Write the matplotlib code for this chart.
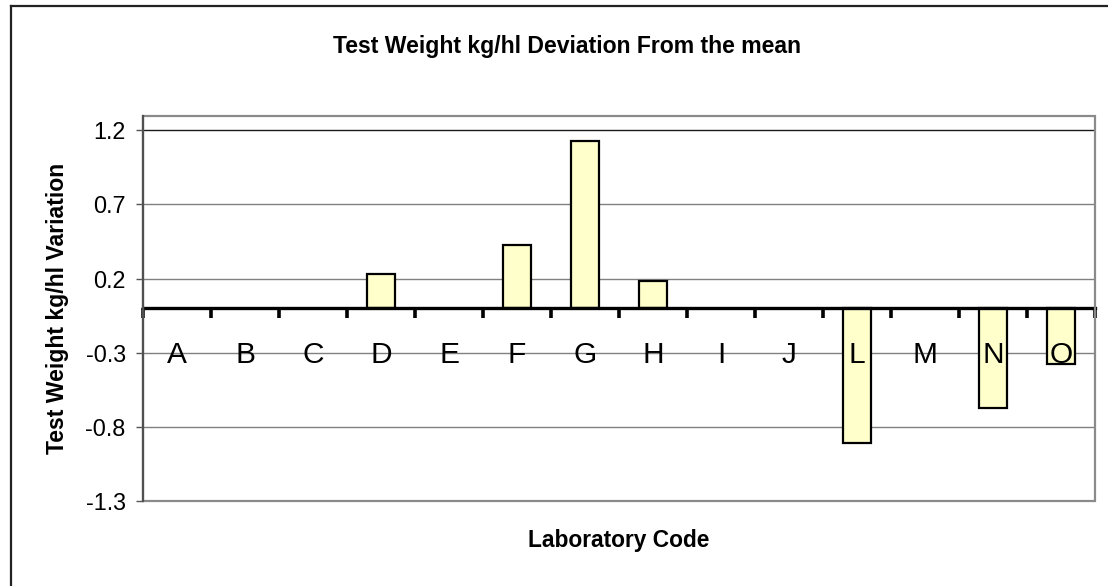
import numpy as np
import matplotlib
matplotlib.use("Agg")
import matplotlib.pyplot as plt
from matplotlib.lines import Line2D
from matplotlib.patches import Rectangle

categories = ["A", "B", "C", "D", "E", "F", "G", "H", "I", "J", "L", "M", "N", "O"]
values = [0.0, 0.0, 0.0, 0.23, 0.0, 0.425, 1.125, 0.185, 0.0, 0.0, -0.91, 0.0, -0.675, -0.375]
y_ticks = [-1.3, -0.8, -0.3, 0.2, 0.7, 1.2]
title = "Test Weight kg/hl Deviation From the mean"
xlabel = "Laboratory Code"
ylabel = "Test Weight kg/hl Variation"

plt.rcParams["font.family"] = ["Liberation Sans", "DejaVu Sans"]

W, H = 1108, 586
fig = plt.figure(figsize=(W / 100, H / 100), dpi=100)
fig.patch.set_facecolor("white")

# outer chart border (top and left visible)
fig.add_artist(Line2D([11 / W, 1.02], [1 - 6 / H, 1 - 6 / H], color="#222222", lw=1.6,
                      transform=fig.transFigure))
fig.add_artist(Line2D([11 / W, 11 / W], [1 - 6 / H, -0.02], color="#222222", lw=1.6,
                      transform=fig.transFigure))

left, right, top, bottom = 143, 1095, 116, 501
ax = fig.add_axes([left / W, 1 - bottom / H, (right - left) / W, (bottom - top) / H])

n = len(categories)
x = np.arange(n)
edge_w = [1.6 if v != 0 else 0.0 for v in values]
ax.bar(x, values, width=0.4, color="#FFFFCC", edgecolor="black", linewidth=edge_w, zorder=3)

ax.set_xlim(-0.5, n - 0.5)
ax.set_ylim(-1.3, 1.2 + 14.3 / 148.2)
ax.set_yticks(y_ticks)
ax.set_yticklabels([f"{v:.1f}" for v in y_ticks], fontsize=16.8)
ax.tick_params(axis="y", direction="out", length=5, width=1, color="#555555", pad=7.5)

for v in y_ticks[1:]:
    ax.axhline(v, color="#1a1a1a" if v == max(y_ticks) else "#808080", lw=1.0, zorder=1)

# zero axis with category boundary ticks
for s in ["top", "right", "left"]:
    ax.spines[s].set_visible(False)
ax.spines["bottom"].set_position(("data", 0))
ax.spines["bottom"].set_color("black")
ax.spines["bottom"].set_linewidth(2.4)
ax.spines["bottom"].set_zorder(4)
ax.set_xticks(np.arange(n + 1) - 0.5)
ax.set_xticklabels([])
ax.tick_params(axis="x", direction="out", length=7, width=2.6, color="black")

for i, c in enumerate(categories):
    ax.annotate(c, xy=(i, 0), xytext=(0, -39.4), textcoords="offset points",
                ha="center", va="baseline", fontsize=21.5, zorder=5)

# plot frame
ax.add_patch(Rectangle((0, 0), 1, 1, transform=ax.transAxes, fill=False,
                       edgecolor="#8a8a8a", lw=1.6, zorder=6, clip_on=False))
ax.add_artist(Line2D([0, 0], [0, 1], transform=ax.transAxes, color="#505050", lw=1.6,
                     zorder=7, clip_on=False))

fig.text(567 / W, 1 - 53 / H, title, ha="center", va="baseline",
         fontsize=16.6, fontweight="bold")
fig.text(619 / W, 1 - 547 / H, xlabel, ha="center", va="baseline",
         fontsize=16.4, fontweight="bold")
fig.text(58 / W, 1 - 308 / H, ylabel, ha="center", va="center", rotation=90,
         fontsize=16.6, fontweight="bold")

fig.savefig("out.png", dpi=100, facecolor="white")
